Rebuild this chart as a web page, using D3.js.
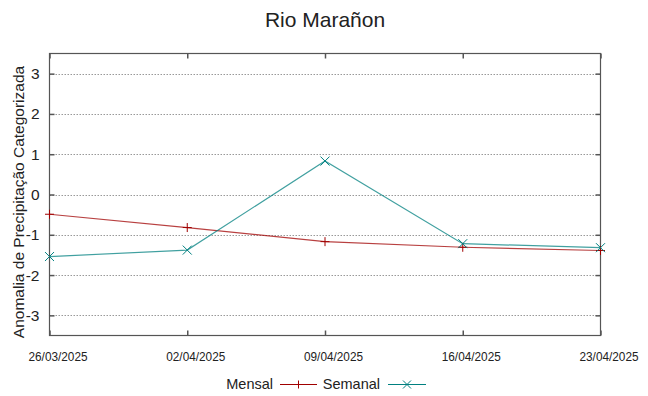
<!DOCTYPE html>
<html>
<head>
<meta charset="utf-8">
<script src="https://cdn.jsdelivr.net/npm/d3@7"></script>
<style>
  body { margin: 0; background: #fff; }
  text { font-family: "Liberation Sans", Arial, sans-serif; fill: #222; }
</style>
</head>
<body>
<svg id="chart" width="648" height="396"></svg>
<script>
// data
const dates = ['26/03/2025', '02/04/2025', '09/04/2025', '16/04/2025', '23/04/2025'];
const mensal = [-0.49, -0.82, -1.17, -1.31, -1.39];
const semanal = [-1.54, -1.38, 0.83, -1.22, -1.32];
const yTicks = [-3, -2, -1, 0, 1, 2, 3];

const svg = d3.select('#chart');
const plotLeft = 49.5, plotRight = 600.5, plotTop = 53.5, plotBottom = 335.5;

const parse = d3.timeParse('%d/%m/%Y');
const x = d3.scaleTime()
  .domain([parse(dates[0]), parse(dates[dates.length - 1])])
  .range([plotLeft, plotRight]);
const y = d3.scaleLinear().domain([-3.5, 3.5]).range([plotBottom, plotTop]);

// grid
svg.append('g')
  .selectAll('line')
  .data(yTicks)
  .enter()
  .append('line')
  .attr('x1', plotLeft)
  .attr('x2', plotRight)
  .attr('y1', (d) => Math.round(y(d)) + 0.5)
  .attr('y2', (d) => Math.round(y(d)) + 0.5)
  .attr('stroke', '#999')
  .attr('stroke-width', 1)
  .attr('stroke-dasharray', '1.5,1.5');

// axes (ticks pointing inward, gnuplot style)
const axisColor = '#555';
const yLeft = svg.append('g')
  .attr('transform', `translate(${plotLeft},0)`)
  .call(d3.axisLeft(y).tickValues(yTicks).tickSize(-5).tickPadding(10).tickFormat(d3.format('d')));
const yRight = svg.append('g')
  .attr('transform', `translate(${plotRight},0)`)
  .call(d3.axisRight(y).tickValues(yTicks).tickSize(-5).tickFormat(''));
const xBottom = svg.append('g')
  .attr('transform', `translate(0,${plotBottom})`)
  .call(d3.axisBottom(x).tickValues(dates.map(parse)).tickSize(-5).tickPadding(17)
    .tickFormat(d3.timeFormat('%d/%m/%Y')));
const xTop = svg.append('g')
  .attr('transform', `translate(0,${plotTop})`)
  .call(d3.axisTop(x).tickValues(dates.map(parse)).tickSize(-5).tickFormat(''));

[yLeft, yRight, xBottom, xTop].forEach((g) => {
  g.select('.domain').remove();
  g.selectAll('line').attr('stroke', axisColor).attr('stroke-width', 1.5);
});
yLeft.selectAll('text')
  .attr('font-size', 15.5)
  .attr('fill', '#222')
  .text((d) => d);
xBottom.selectAll('text')
  .attr('font-size', 12.5)
  .attr('fill', '#222')
  .attr('x', 8)
  .attr('textLength', 59)
  .attr('lengthAdjust', 'spacingAndGlyphs');

svg.append('rect')
  .attr('x', plotLeft)
  .attr('y', plotTop)
  .attr('width', plotRight - plotLeft)
  .attr('height', plotBottom - plotTop)
  .attr('fill', 'none')
  .attr('stroke', axisColor)
  .attr('stroke-width', 1.2);

// series
const series = [
  { name: 'Mensal', values: mensal, color: '#a00000', marker: 'plus' },
  { name: 'Semanal', values: semanal, color: '#008080', marker: 'cross' },
];

const line = d3.line()
  .x((d, i) => x(parse(dates[i])))
  .y((d) => y(d));

function markerPath(type, cx, cy, r) {
  if (type === 'plus') {
    return `M${cx - r},${cy}H${cx + r}M${cx},${cy - r}V${cy + r}`;
  }
  return `M${cx - r},${cy - r}L${cx + r},${cy + r}M${cx - r},${cy + r}L${cx + r},${cy - r}`;
}

series.forEach((s) => {
  svg.append('path')
    .datum(s.values)
    .attr('d', line)
    .attr('fill', 'none')
    .attr('stroke', s.color)
    .attr('stroke-opacity', 0.75)
    .attr('stroke-width', 1.2);

  svg.append('g')
    .selectAll('path')
    .data(s.values)
    .enter()
    .append('path')
    .attr('d', (d, i) => markerPath(s.marker, x(parse(dates[i])), y(d), 4.5))
    .attr('stroke', s.color)
    .attr('stroke-width', 1)
    .attr('fill', 'none');
});

// title
svg.append('text')
  .attr('x', 325)
  .attr('y', 27)
  .attr('text-anchor', 'middle')
  .attr('font-size', 21)
  .text('Rio Marañon');

// y label
svg.append('text')
  .attr('transform', `translate(24,202) rotate(-90)`)
  .attr('text-anchor', 'middle')
  .attr('font-size', 15.5)
  .text('Anomalia de Precipitação Categorizada');

// legend
const legend = svg.append('g');
const legendItems = [
  { s: series[0], textRight: 273, x1: 280, x2: 317 },
  { s: series[1], textRight: 380, x1: 388, x2: 426 },
];
legendItems.forEach(({ s, textRight, x1, x2 }) => {
  legend.append('text')
    .attr('x', textRight)
    .attr('y', 389)
    .attr('text-anchor', 'end')
    .attr('font-size', 14.5)
    .text(s.name);
  legend.append('line')
    .attr('x1', x1)
    .attr('x2', x2)
    .attr('y1', 384.5)
    .attr('y2', 384.5)
    .attr('stroke', s.color)
    .attr('stroke-width', 1);
  legend.append('path')
    .attr('d', markerPath(s.marker, (x1 + x2) / 2, 384.5, 4))
    .attr('stroke', s.color)
    .attr('fill', 'none');
});
</script>
</body>
</html>
